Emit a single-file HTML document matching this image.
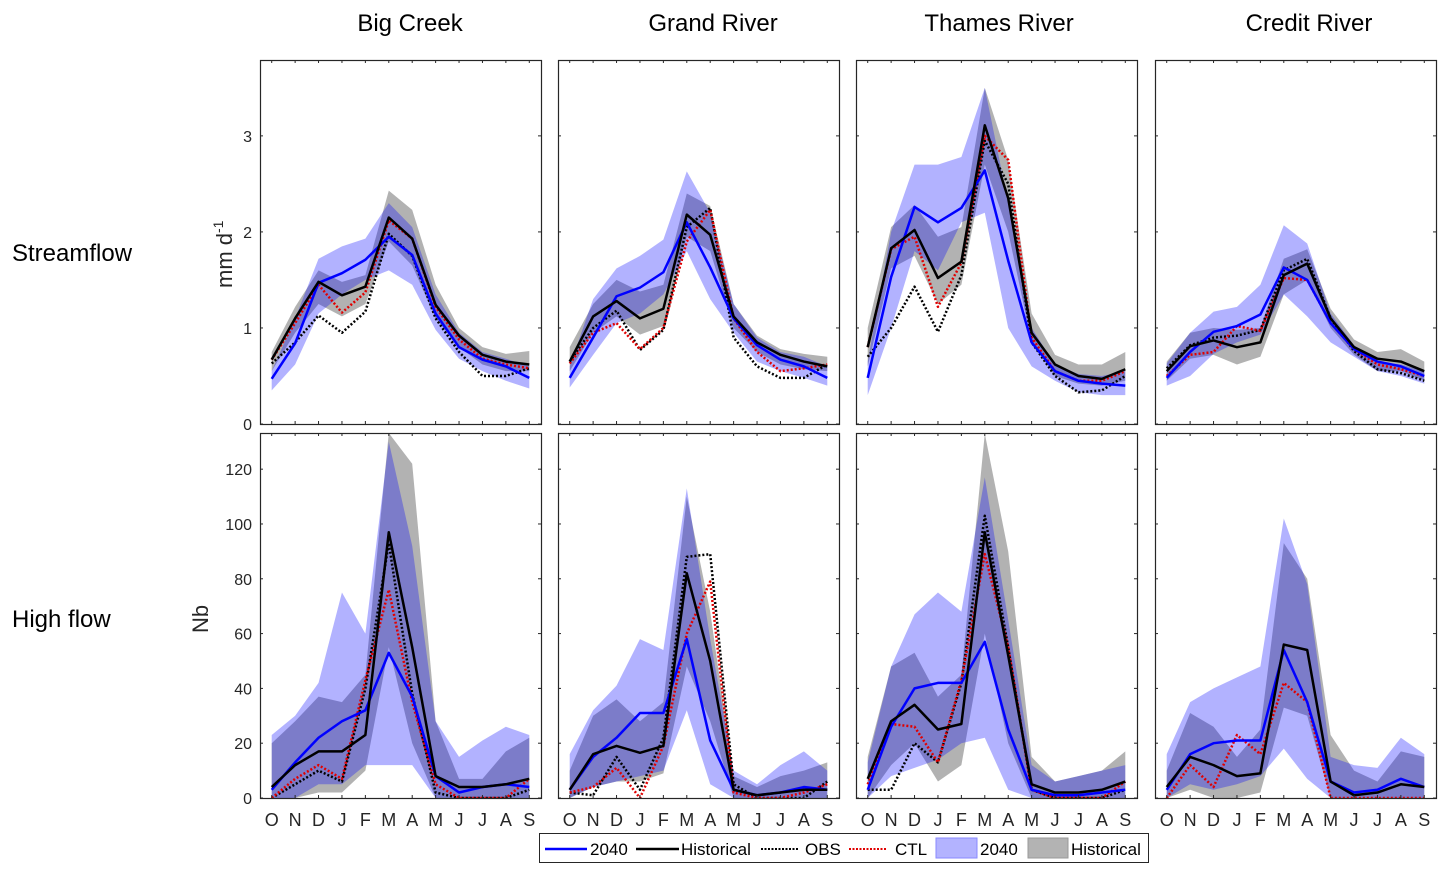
<!DOCTYPE html>
<html><head><meta charset="utf-8">
<style>
html,body{margin:0;padding:0;background:#fff;}
svg{display:block;font-family:"Liberation Sans",Arial,sans-serif;}
</style></head>
<body>
<svg id="fig" width="1451" height="875" viewBox="0 0 1451 875" xmlns="http://www.w3.org/2000/svg">
<text x="12" y="261" font-size="24">Streamflow</text>
<text x="12" y="627" font-size="24">High flow</text>
<text transform="translate(232,288) rotate(-90)" font-size="22" fill="#262626">mm d<tspan font-size="14" dy="-9">-1</tspan></text>
<text transform="translate(208,633) rotate(-90)" font-size="22" fill="#262626">Nb</text>
<g font-size="17">
  <rect x="539.5" y="833.5" width="609" height="29" fill="#fff" stroke="#262626"/>
  <line x1="545" y1="849" x2="587" y2="849" stroke="#0000ff" stroke-width="2.5"/>
  <text x="590" y="855">2040</text>
  <line x1="636" y1="849" x2="679" y2="849" stroke="#000" stroke-width="2.5"/>
  <text x="681" y="855">Historical</text>
  <line x1="761" y1="849" x2="798" y2="849" stroke="#000" stroke-width="2" stroke-dasharray="2 1.5"/>
  <text x="805" y="855">OBS</text>
  <line x1="849" y1="849" x2="887" y2="849" stroke="#e00000" stroke-width="2" stroke-dasharray="2 1.5"/>
  <text x="895" y="855">CTL</text>
  <rect x="936" y="838" width="41" height="20" fill="#b3b3ff" stroke="#8a8aff"/>
  <text x="980" y="855">2040</text>
  <rect x="1028" y="838" width="40" height="20" fill="#b3b3b3" stroke="#999"/>
  <text x="1071" y="855">Historical</text>
</g>
</svg>
<script>
const months = ["O","N","D","J","F","M","A","M","J","J","A","S"];
const rivers = ["Big Creek","Grand River","Thames River","Credit River"];
const topTicks = [0,1,2,3];
const botTicks = [0,20,40,60,80,100,120];

// ---- Streamflow (mm/d) ----
const bigTopHist = [0.67,1.1,1.48,1.34,1.43,2.15,1.93,1.24,0.92,0.72,0.65,0.62];
const bigTopFut  = [0.47,0.84,1.47,1.57,1.71,1.95,1.76,1.15,0.8,0.67,0.6,0.48];
const bigTopCtl  = [0.67,1.05,1.45,1.16,1.37,2.12,1.93,1.22,0.88,0.68,0.62,0.58];
const bigTopObs  = [0.63,0.85,1.13,0.95,1.17,1.98,1.75,1.1,0.75,0.5,0.5,0.58];
const bigTopHistHi = [0.75,1.22,1.6,1.48,1.55,2.43,2.23,1.45,1.0,0.8,0.73,0.76];
const bigTopHistLo = [0.55,0.95,1.25,1.12,1.25,1.9,1.65,1.1,0.8,0.62,0.55,0.55];
const bigTopFutHi = [0.55,1.1,1.72,1.85,1.93,2.3,2.05,1.35,0.95,0.75,0.68,0.6];
const bigTopFutLo = [0.35,0.62,1.15,1.35,1.5,1.6,1.45,0.98,0.68,0.55,0.45,0.37];

const grandTopHist = [0.65,1.12,1.28,1.1,1.2,2.18,1.97,1.12,0.85,0.72,0.65,0.6];
const grandTopFut  = [0.48,0.9,1.33,1.42,1.58,2.1,1.63,1.1,0.82,0.67,0.6,0.48];
const grandTopCtl  = [0.63,0.95,1.05,0.78,1.0,1.9,2.23,1.1,0.75,0.55,0.58,0.62];
const grandTopObs  = [0.65,1.0,1.18,0.77,0.98,2.05,2.25,0.9,0.6,0.48,0.48,0.62];
const grandTopHistHi = [0.8,1.25,1.5,1.38,1.45,2.4,2.27,1.25,0.92,0.78,0.73,0.7];
const grandTopHistLo = [0.55,0.95,1.12,0.93,1.02,1.95,1.8,1.0,0.75,0.62,0.57,0.55];
const grandTopFutHi = [0.6,1.3,1.62,1.75,1.92,2.63,2.2,1.25,0.9,0.75,0.7,0.6];
const grandTopFutLo = [0.38,0.72,1.05,1.15,1.35,1.8,1.3,0.95,0.65,0.55,0.48,0.4];

const thamesTopHist = [0.8,1.83,2.02,1.52,1.69,3.11,2.35,0.95,0.62,0.5,0.47,0.57];
const thamesTopFut  = [0.48,1.53,2.26,2.1,2.25,2.64,1.7,0.85,0.55,0.45,0.42,0.4];
const thamesTopCtl  = [0.8,1.82,1.95,1.22,1.68,3.0,2.75,0.9,0.55,0.45,0.45,0.55];
const thamesTopObs  = [0.7,1.0,1.43,0.96,1.55,2.95,2.5,0.85,0.5,0.33,0.35,0.5];
const thamesTopHistHi = [1.0,2.05,2.28,1.95,2.05,3.5,2.75,1.15,0.72,0.62,0.62,0.75];
const thamesTopHistLo = [0.6,1.62,1.75,1.25,1.45,2.7,2.0,0.85,0.5,0.42,0.4,0.45];
const thamesTopFutHi = [0.65,2.0,2.7,2.7,2.78,3.5,2.3,1.0,0.62,0.52,0.5,0.55];
const thamesTopFutLo = [0.3,1.0,1.8,1.6,2.1,2.2,1.0,0.6,0.45,0.33,0.3,0.3];

const creditTopHist = [0.55,0.81,0.87,0.8,0.85,1.55,1.67,1.1,0.8,0.68,0.65,0.55];
const creditTopFut  = [0.48,0.75,0.96,1.02,1.14,1.63,1.5,1.05,0.78,0.65,0.6,0.5];
const creditTopCtl  = [0.5,0.72,0.75,1.02,0.97,1.52,1.5,1.05,0.78,0.62,0.57,0.5];
const creditTopObs  = [0.58,0.82,0.9,0.92,0.98,1.6,1.72,1.1,0.76,0.57,0.53,0.45];
const creditTopHistHi = [0.65,0.95,1.0,0.98,1.0,1.72,1.82,1.2,0.88,0.75,0.78,0.65];
const creditTopHistLo = [0.45,0.68,0.72,0.62,0.7,1.35,1.5,1.0,0.72,0.55,0.55,0.45];
const creditTopFutHi = [0.63,0.95,1.17,1.22,1.45,2.07,1.88,1.15,0.82,0.65,0.62,0.55];
const creditTopFutLo = [0.4,0.5,0.73,0.85,0.93,1.35,1.12,0.85,0.7,0.55,0.5,0.42];

// ---- High flow (Nb) ----
const bigBotHist = [4,12,17,17,23,97,55,8,4,4,5,7];
const bigBotFut  = [3,13,22,28,32,53,37,8,2,4,5,4];
const bigBotCtl  = [0,7,12,7,43,76,35,5,0,0,0,7];
const bigBotObs  = [0,5,10,6,40,93,38,2,0,0,0,3];
const bigBotHistHi = [20,28,37,35,45,135,122,28,7,7,17,22];
const bigBotHistLo = [0,0,2,2,10,55,20,0,0,0,0,0];
const bigBotFutHi = [23,30,42,75,60,130,92,28,15,21,26,23];
const bigBotFutLo = [0,0,5,5,12,12,12,0,0,0,0,0];

const grandBotHist = [3,16,19,16.5,19,82,50,3,1,2,3,3];
const grandBotFut  = [3,15,22,31,31,58,21,3,1,2,4,3];
const grandBotCtl  = [2,4,11,0,19,60,79,2,0,0,2,5];
const grandBotObs  = [2,1,15,3,22,88,89,5,0,0,0,6];
const grandBotHistHi = [10,30,36,28,35,110,68,8,4,8,10,13];
const grandBotHistLo = [0,4,6,6,9,48,28,0,0,0,0,0];
const grandBotFutHi = [16,32,41,58,54,113,58,10,5,12,17,10];
const grandBotFutLo = [0,4,6,8,10,32,5,0,0,0,0,0];

const thamesBotHist = [7,28,34,25,27,97,52,5,2,2,3,6];
const thamesBotFut  = [3,26,40,42,42,57,25,3,1,1,2,3];
const thamesBotCtl  = [5,27,26,13,43,89,55,3,0,0,0,6];
const thamesBotObs  = [3,3,20,13,42,103,55,3,0,0,0,3];
const thamesBotHistHi = [15,48,53,37,45,133,90,15,6,8,10,17];
const thamesBotHistLo = [0,12,20,6,12,60,20,0,0,0,0,0];
const thamesBotFutHi = [13,48,67,75,68,117,65,12,6,8,10,12];
const thamesBotFutLo = [0,8,11,14,20,22,3,0,0,0,0,0];

const creditBotHist = [4,15,12,8,9,56,54,6,1,2,5,4];
const creditBotFut  = [3,16,20,21,21,54,35,6,2,3,7,4];
const creditBotCtl  = [0,12,4,23,16,42,35,0,0,0,0,0];
const creditBotObs  = null;
const creditBotHistHi = [10,31,26,15,25,93,80,23,10,6,17,15];
const creditBotHistLo = [0,3,0,0,2,33,30,0,0,0,0,0];
const creditBotFutHi = [16,35,40,44,48,102,78,15,12,11,22,16];
const creditBotFutLo = [0,5,3,5,8,18,7,0,0,0,0,0];

const NS="http://www.w3.org/2000/svg";
const svg=document.getElementById('fig');
function mk(tag,attrs,parent){const e=document.createElementNS(NS,tag);for(const k in attrs)e.setAttribute(k,attrs[k]);(parent||svg).appendChild(e);return e;}

const colX=[260,558,856,1155], PW=281;
const titleX=[410,713,999,1309];
const rows=[{top:60,bot:424,max:3.79,ticks:topTicks},{top:433,bot:798,max:133.2,ticks:botTicks}];
const panels=[
 [[bigTopHist,bigTopFut,bigTopCtl,bigTopObs,bigTopHistHi,bigTopHistLo,bigTopFutHi,bigTopFutLo],
  [bigBotHist,bigBotFut,bigBotCtl,bigBotObs,bigBotHistHi,bigBotHistLo,bigBotFutHi,bigBotFutLo]],
 [[grandTopHist,grandTopFut,grandTopCtl,grandTopObs,grandTopHistHi,grandTopHistLo,grandTopFutHi,grandTopFutLo],
  [grandBotHist,grandBotFut,grandBotCtl,grandBotObs,grandBotHistHi,grandBotHistLo,grandBotFutHi,grandBotFutLo]],
 [[thamesTopHist,thamesTopFut,thamesTopCtl,thamesTopObs,thamesTopHistHi,thamesTopHistLo,thamesTopFutHi,thamesTopFutLo],
  [thamesBotHist,thamesBotFut,thamesBotCtl,thamesBotObs,thamesBotHistHi,thamesBotHistLo,thamesBotFutHi,thamesBotFutLo]],
 [[creditTopHist,creditTopFut,creditTopCtl,creditTopObs,creditTopHistHi,creditTopHistLo,creditTopFutHi,creditTopFutLo],
  [creditBotHist,creditBotFut,creditBotCtl,creditBotObs,creditBotHistHi,creditBotHistLo,creditBotFutHi,creditBotFutLo]]
];

rivers.forEach((r,c)=>{
  const t=mk('text',{x:titleX[c],y:31,'text-anchor':'middle','font-size':24,fill:'#000'});
  t.textContent=r;
  
  
});

panels.forEach((pp,c)=>{
  pp.forEach((d,ri)=>{
    const R=rows[ri], x0=colX[c];
    const xs=i=>x0+(i+0.5)*PW/12;
    const ys=v=>R.bot-(Math.min(v,R.max))*(R.bot-R.top)/R.max;
    const g=mk('g',{});
    
    
    mk('defs',{},g).innerHTML=`<clipPath id="cp${c}${ri}"><rect x="${x0}" y="${R.top}" width="${PW}" height="${R.bot-R.top}"/></clipPath>`;
    const cg=mk('g',{'clip-path':`url(#cp${c}${ri})`},g);
    const band=(hi,lo,fill,name)=>{
      let pts=hi.map((v,i)=>xs(i)+','+ys(v));
      for(let i=lo.length-1;i>=0;i--)pts.push(xs(i)+','+ys(lo[i]));
      const p=mk('polygon',{points:pts.join(' '),fill:fill,'fill-opacity':0.3,stroke:'none'},cg);
      
      
    };
    band(d[4],d[5],'#000','historical-band');
    band(d[6],d[7],'#0000ff','2040-band');
    const line=(arr,col,dash,w,name)=>{
      if(!arr)return;
      const p=mk('polyline',{points:arr.map((v,i)=>xs(i)+','+ys(v)).join(' '),fill:'none',stroke:col,'stroke-width':w,'stroke-dasharray':dash,'stroke-linejoin':'round'},cg);
      
      
    };
    line(d[3],'#000','2 2',2.5,'obs-line');
    line(d[2],'#e00000','2 2',2.5,'ctl-line');
    line(d[1],'#0000ff','',2.5,'2040-line');
    line(d[0],'#000','',2.5,'historical-line');
    mk('rect',{x:x0+0.5,y:R.top+0.5,width:PW,height:R.bot-R.top,fill:'none',stroke:'#262626','stroke-width':1.2},g);
    months.forEach((m,i)=>{
      mk('line',{x1:xs(i),x2:xs(i),y1:R.bot,y2:R.bot-3,stroke:'#262626'},g);
      mk('line',{x1:xs(i),x2:xs(i),y1:R.top,y2:R.top+3,stroke:'#262626'},g);
      if(ri===1){
        const t=mk('text',{x:xs(i),y:826,'text-anchor':'middle','font-size':18,fill:'#262626'},g);
        t.textContent=m;
        
        
      }
    });
    R.ticks.forEach(v=>{
      mk('line',{x1:x0,x2:x0+3,y1:ys(v),y2:ys(v),stroke:'#262626'},g);
      mk('line',{x1:x0+PW,x2:x0+PW-3,y1:ys(v),y2:ys(v),stroke:'#262626'},g);
      if(c===0){
        const t=mk('text',{x:x0-8,y:ys(v)+6,'text-anchor':'end','font-size':16,fill:'#262626'},g);
        t.textContent=v;
        
        
      }
    });
  });
});
</script>
</body></html>
